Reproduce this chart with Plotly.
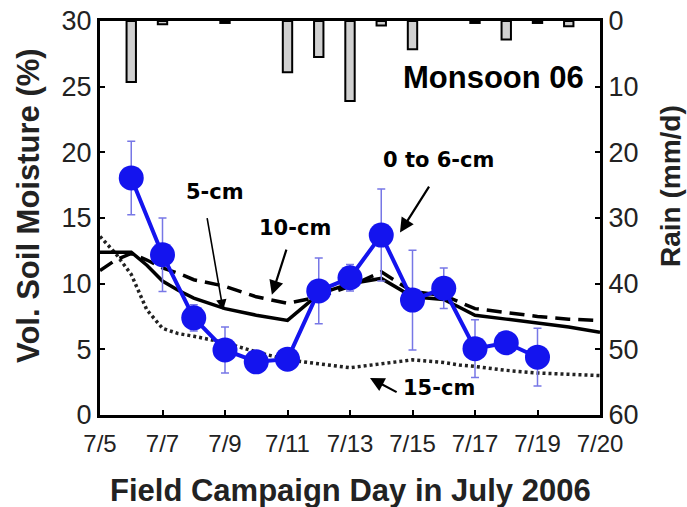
import plotly.graph_objects as go

# day of July 2006
obs_day = [6, 7, 8, 9, 10, 11, 12, 13, 14, 15, 16, 17, 18, 19]
obs_sm = [18.05, 12.2, 7.4, 4.95, 4.05, 4.25, 9.45, 10.45, 13.7, 8.75, 9.65, 5.05, 5.5, 4.4]
obs_err = [2.8, 2.8, 1.0, 1.75, 0.5, 0.5, 2.5, 1.0, 3.5, 3.8, 1.55, 2.2, 0.8, 2.2]

model_day = [5, 5.5, 6, 6.5, 7, 7.5, 8, 9, 10, 11, 12, 13, 14, 15, 16, 16.5, 17, 18, 19, 20, 21]
sm_5cm = [12.4, 12.4, 12.4, 11.4, 10.2, 9.5, 8.9, 8.1, 7.6, 7.2, 9.2, 10.0, 10.4, 9.0, 8.8, 8.2, 7.6, 7.3, 7.0, 6.7, 6.3]
sm_10cm = [11.0, 11.8, 12.3, 11.8, 11.2, 10.8, 10.3, 9.8, 9.0, 8.5, 9.0, 9.8, 10.9, 9.4, 9.1, 8.6, 8.1, 7.8, 7.5, 7.3, 7.2]
sm_15cm = [13.6, 12.3, 10.7, 8.0, 6.6, 6.2, 6.0, 5.5, 4.8, 4.2, 3.9, 3.6, 3.9, 4.2, 4.0, 3.8, 3.7, 3.4, 3.2, 3.1, 3.0]

rain_day = [6, 7, 9, 11, 12, 13, 14, 15, 17, 18, 19, 20]
rain_mm = [9.3, 0.5, 0.3, 7.8, 5.5, 12.2, 0.7, 4.3, 0.3, 2.8, 0.3, 0.8]

tick_days = [5, 7, 9, 11, 13, 15, 17, 19, 21]
tick_text = ["7/5", "7/7", "7/9", "7/11", "7/13", "7/15", "7/17", "7/19", "7/20"]

FONT = "Arial, Liberation Sans, sans-serif"
LBL = "DejaVu Sans, Verdana, sans-serif"

fig = go.Figure()

# rain hanging from the top (reversed right axis)
fig.add_trace(go.Bar(x=rain_day, y=rain_mm, yaxis="y2", width=0.3,
                     marker=dict(color="#d0d0d0", line=dict(color="black", width=2))))

fig.add_trace(go.Scatter(x=model_day, y=sm_15cm, mode="lines",
                         line=dict(color="#222", width=3.5, dash="3px,3px")))
fig.add_trace(go.Scatter(x=model_day, y=sm_10cm, mode="lines",
                         line=dict(color="black", width=3.5, dash="15px,8px")))
fig.add_trace(go.Scatter(x=model_day, y=sm_5cm, mode="lines",
                         line=dict(color="black", width=3.5)))

fig.add_trace(go.Scatter(x=obs_day, y=obs_sm, mode="lines+markers",
                         line=dict(color="#1414ee", width=4),
                         marker=dict(color="#1414ee", size=25),
                         error_y=dict(type="data", array=obs_err, color="#7777e6",
                                      thickness=1.5, width=4)))

# labels and arrows
labels = [
    ("0 to 6-cm", 15.82, 19.4),
    ("5-cm", 8.68, 17.0),
    ("10-cm", 11.24, 14.25),
    ("15-cm", 15.85, 2.05),
]
for txt, x, y in labels:
    fig.add_annotation(x=x, y=y, text="<b>%s</b>" % txt, showarrow=False,
                       xanchor="center", yanchor="middle",
                       font=dict(family=LBL, size=21, color="black"))

arrows = [
    # tail x, tail y, tip x, tip y, width
    (15.56, 17.5, 14.6, 13.9, 2.2),
    (8.42, 15.1, 8.94, 8.0, 1.6),
    (10.98, 12.7, 10.5, 9.15, 2.2),
    (14.54, 1.68, 13.64, 2.82, 2.2),
]
for ax_, ay_, x, y, w in arrows:
    fig.add_annotation(x=x, y=y, ax=ax_, ay=ay_, axref="x", ayref="y", text="",
                       showarrow=True, arrowhead=2, arrowsize=1.3, arrowwidth=w,
                       arrowcolor="black")

fig.add_annotation(x=17.58, y=25.7, text="<b>Monsoon 06</b>", showarrow=False,
                   xanchor="center", yanchor="middle",
                   font=dict(family=FONT, size=31, color="black"))

# axis titles
fig.add_annotation(xref="paper", yref="paper", x=(28 - 100) / 500, y=(415 - 206) / 394,
                   xanchor="center", yanchor="middle",
                   text="<b>Vol. Soil Moisture (%)</b>", textangle=-90, showarrow=False,
                   font=dict(family=FONT, size=31, color="#222"))
fig.add_annotation(xref="paper", yref="paper", x=(670 - 100) / 500, y=(415 - 186) / 394,
                   xanchor="center", yanchor="middle",
                   text="<b>Rain (mm/d)</b>", textangle=-90, showarrow=False,
                   font=dict(family=FONT, size=28, color="#222"))
fig.add_annotation(xref="paper", yref="paper", x=0.5, y=(415 - 490) / 394,
                   xanchor="center", yanchor="middle",
                   text="<b>Field Campaign Day in July 2006</b>", showarrow=False,
                   font=dict(family=FONT, size=31, color="#222"))

axis_common = dict(showgrid=False, zeroline=False, showline=True, linecolor="black",
                   linewidth=3, ticks="inside", ticklen=5, tickwidth=2, tickcolor="black",
                   automargin=False)

fig.update_layout(
    width=687, height=507,
    margin=dict(l=100, r=87, t=21, b=92),
    plot_bgcolor="white", paper_bgcolor="white",
    showlegend=False,
    xaxis=dict(range=[5, 21], tickvals=tick_days, ticktext=tick_text, mirror=True,
               ticklabelstandoff=5,
               tickfont=dict(family=FONT, size=24, color="#222"), **axis_common),
    yaxis=dict(range=[0, 30], tickvals=[0, 5, 10, 15, 20, 25, 30],
               tickfont=dict(family=FONT, size=27, color="#222"), **axis_common),
    yaxis2=dict(range=[60, 0], tickvals=[0, 10, 20, 30, 40, 50, 60], overlaying="y",
                side="right", tickfont=dict(family=FONT, size=27, color="#222"),
                **axis_common),
)

# drop the browser's default 8px body margin so the figure sits at 0,0
fig.write_html("out.html", config={"displayModeBar": False},
               post_script="document.body.style.margin='0';document.body.style.overflow='hidden';")
